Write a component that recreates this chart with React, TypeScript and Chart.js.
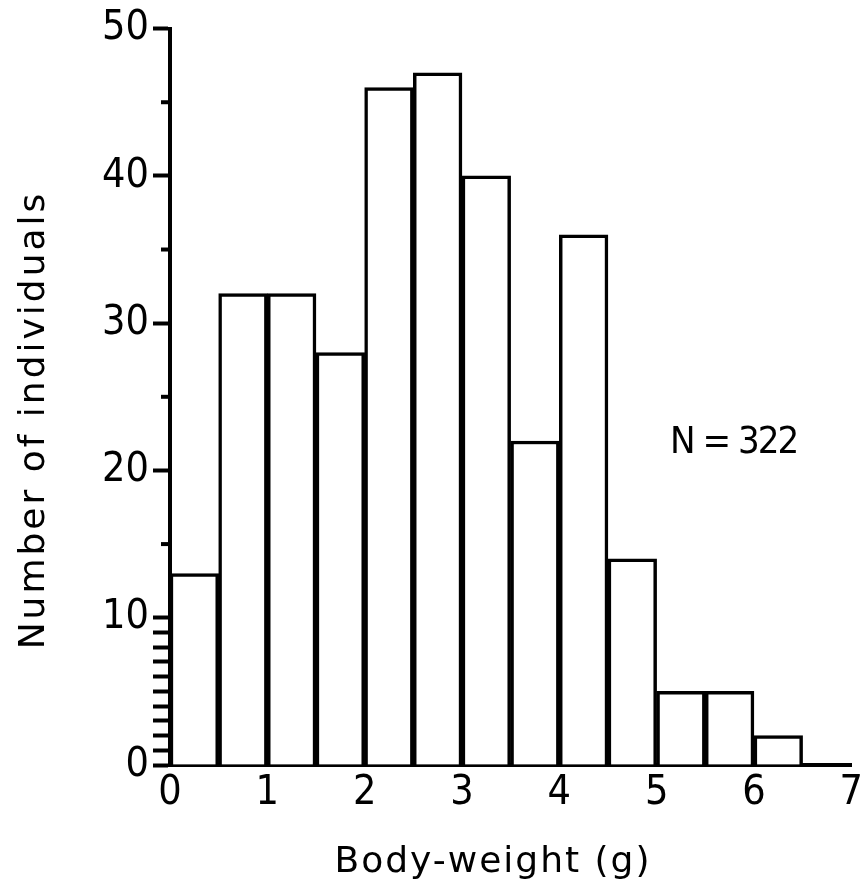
import React, { useEffect, useRef } from 'react';
import { Chart, registerables } from 'chart.js';

Chart.register(...registerables);

// Histogram bins (lower edge, g) and counts
const binStarts = [0, 0.5, 1, 1.5, 2, 2.5, 3, 3.5, 4, 4.5, 5, 5.5, 6];
const counts = [13, 32, 32, 28, 46, 47, 40, 22, 36, 14, 5, 5, 2];
const binWidth = 0.5;

const xTickValues = [0, 1, 2, 3, 4, 5, 6, 7];
const yLabelledTicks = [0, 10, 20, 30, 40, 50];
const yUnitTicks = [1, 2, 3, 4, 5, 6, 7, 8, 9];
const yShortTicks = [15, 25, 35, 45];

const xTitle = 'Body-weight (g)';
const yTitle = 'Number of individuals';
const sampleLabel = 'N = 322';

const DIGIT_FONT = '"DejaVu Sans Condensed", "Liberation Sans Narrow", sans-serif';
const TITLE_FONT = '"DejaVu Sans", sans-serif';

export default function App() {
  const canvasRef = useRef<HTMLCanvasElement | null>(null);

  useEffect(() => {
    const canvas = canvasRef.current;
    if (!canvas) return;

    const textPlugin = {
      id: 'extraText',
      afterDraw(chart: any) {
        const ctx = chart.ctx as CanvasRenderingContext2D;
        const area = chart.chartArea;
        const yScale = chart.scales.y;
        // short ticks
        ctx.save();
        ctx.strokeStyle = '#000';
        ctx.lineWidth = 4;
        yShortTicks.forEach((v) => {
          const py = yScale.getPixelForValue(v);
          ctx.beginPath();
          ctx.moveTo(area.left - 9, py);
          ctx.lineTo(area.left, py);
          ctx.stroke();
        });
        ctx.restore();

        // titles
        ctx.save();
        ctx.fillStyle = '#000';
        ctx.textAlign = 'center';
        ctx.textBaseline = 'alphabetic';
        (ctx as any).letterSpacing = '2px';
        ctx.font = `36px ${TITLE_FONT}`;
        ctx.fillText(xTitle, 493, 872);
        (ctx as any).letterSpacing = '3px';
        ctx.translate(44, 420);
        ctx.rotate(-Math.PI / 2);
        ctx.fillText(yTitle, 0, 0);
        ctx.restore();

        // sample size
        ctx.save();
        ctx.fillStyle = '#000';
        (ctx as any).letterSpacing = '-2px';
        ctx.font = `38px ${DIGIT_FONT}`;
        ctx.textAlign = 'left';
        ctx.textBaseline = 'alphabetic';
        ctx.fillText(sampleLabel, 670, 453);
        ctx.restore();
      },
    };

    const chart = new Chart(canvas, {
      type: 'bar',
      data: {
        datasets: [
          {
            data: binStarts.map((s, i) => ({ x: s + binWidth / 2, y: counts[i] })),
            backgroundColor: '#ffffff',
            borderColor: '#000000',
            borderWidth: 3.5,
            borderSkipped: 'bottom',
            barPercentage: 1,
            categoryPercentage: 1,
          },
        ],
      },
      options: {
        responsive: false,
        animation: false,
        events: [],
        layout: { padding: { top: 23, right: 11, left: 0, bottom: 0 } },
        plugins: { legend: { display: false }, tooltip: { enabled: false }, title: { display: false } },
        scales: {
          x: {
            type: 'linear',
            min: 0,
            max: 7,
            offset: false,
            grid: { display: true, drawOnChartArea: false, drawTicks: false, offset: false },
            border: { display: true, color: '#000', width: 4 },
            afterBuildTicks: (scale: any) => {
              scale.ticks = xTickValues.map((v) => ({ value: v }));
            },
            afterFit: (scale: any) => {
              scale.height = 124;
            },
            ticks: {
              autoSkip: false,
              maxRotation: 0,
              padding: 4,
              color: '#000',
              font: { family: DIGIT_FONT, size: 41 },
              callback: (v: any) => String(v),
            },
          },
          y: {
            type: 'linear',
            min: 0,
            max: 50,
            grid: {
              display: true,
              drawOnChartArea: false,
              drawTicks: true,
              tickLength: 17,
              tickWidth: 4,
              tickColor: '#000',
            },
            border: { display: true, color: '#000', width: 4 },
            afterBuildTicks: (scale: any) => {
              const vals = [...yLabelledTicks, ...yUnitTicks].sort((a, b) => a - b);
              scale.ticks = vals.map((v) => ({ value: v }));
            },
            afterFit: (scale: any) => {
              scale.width = 170;
            },
            ticks: {
              autoSkip: false,
              padding: 4,
              color: '#000',
              font: { family: DIGIT_FONT, size: 41 },
              callback: (v: any) => (yLabelledTicks.includes(Number(v)) ? String(v) : ''),
            },
          },
        },
      },
      plugins: [textPlugin],
    } as any);

    return () => chart.destroy();
  }, []);

  return (
    <div style={{ position: 'absolute', left: 0, top: 0, width: 867, height: 889, background: '#fff' }}>
      <canvas ref={canvasRef} width={867} height={889} style={{ display: 'block' }} />
    </div>
  );
}
